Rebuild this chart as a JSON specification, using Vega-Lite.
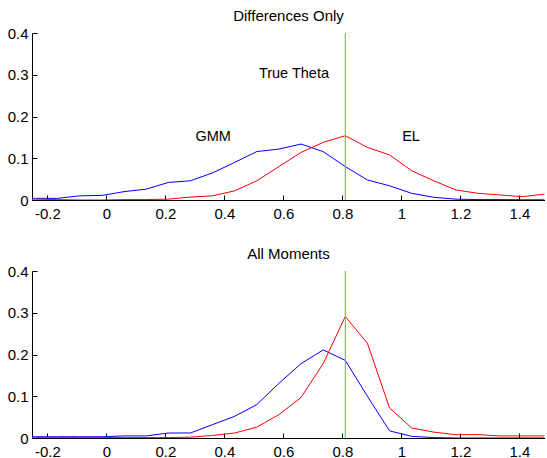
{
  "$schema": "https://vega.github.io/schema/vega-lite/v6.json",
  "padding": {"left": 7, "top": 9, "right": 0, "bottom": 0},
  "autosize": {"type": "pad"},
  "spacing": 26,
  "config": {
    "view": {"stroke": null},
    "font": "Liberation Sans",
    "title": {"fontSize": 15, "fontWeight": "normal", "color": "black", "offset": 2, "font": "Liberation Sans"},
    "axis": {
      "domainColor": "black", "domainWidth": 1, "tickColor": "black", "tickSize": -5,
      "labelFontSize": 15, "labelColor": "black", "labelFont": "Liberation Sans",
      "grid": false, "title": null, "labelPadding": 11, "labelFlush": false, "labelOverlap": false
    }
  },
  "datasets": {
    "d": [
      {"p": "top", "s": "GMM", "x": -0.315, "y": 0.004},
      {"p": "top", "s": "GMM", "x": -0.24, "y": 0.004},
      {"p": "top", "s": "GMM", "x": -0.165, "y": 0.004},
      {"p": "top", "s": "GMM", "x": -0.09, "y": 0.010},
      {"p": "top", "s": "GMM", "x": -0.015, "y": 0.011},
      {"p": "top", "s": "GMM", "x": 0.06, "y": 0.020},
      {"p": "top", "s": "GMM", "x": 0.135, "y": 0.026},
      {"p": "top", "s": "GMM", "x": 0.21, "y": 0.042},
      {"p": "top", "s": "GMM", "x": 0.285, "y": 0.046},
      {"p": "top", "s": "GMM", "x": 0.36, "y": 0.065},
      {"p": "top", "s": "GMM", "x": 0.435, "y": 0.090},
      {"p": "top", "s": "GMM", "x": 0.51, "y": 0.116},
      {"p": "top", "s": "GMM", "x": 0.585, "y": 0.122},
      {"p": "top", "s": "GMM", "x": 0.66, "y": 0.134},
      {"p": "top", "s": "GMM", "x": 0.735, "y": 0.116},
      {"p": "top", "s": "GMM", "x": 0.81, "y": 0.080},
      {"p": "top", "s": "GMM", "x": 0.885, "y": 0.048},
      {"p": "top", "s": "GMM", "x": 0.96, "y": 0.034},
      {"p": "top", "s": "GMM", "x": 1.035, "y": 0.016},
      {"p": "top", "s": "GMM", "x": 1.11, "y": 0.0065},
      {"p": "top", "s": "GMM", "x": 1.185, "y": 0.002},
      {"p": "top", "s": "GMM", "x": 1.26, "y": 0.001},
      {"p": "top", "s": "GMM", "x": 1.335, "y": 0.001},
      {"p": "top", "s": "GMM", "x": 1.41, "y": 0.0005},
      {"p": "top", "s": "GMM", "x": 1.485, "y": 0.0005},
      {"p": "top", "s": "EL", "x": -0.315, "y": 0.003},
      {"p": "top", "s": "EL", "x": -0.24, "y": 0.002},
      {"p": "top", "s": "EL", "x": -0.165, "y": 0.001},
      {"p": "top", "s": "EL", "x": -0.09, "y": 0.0},
      {"p": "top", "s": "EL", "x": -0.015, "y": 0.0},
      {"p": "top", "s": "EL", "x": 0.06, "y": 0.001},
      {"p": "top", "s": "EL", "x": 0.135, "y": 0.001},
      {"p": "top", "s": "EL", "x": 0.21, "y": 0.002},
      {"p": "top", "s": "EL", "x": 0.285, "y": 0.007},
      {"p": "top", "s": "EL", "x": 0.36, "y": 0.010},
      {"p": "top", "s": "EL", "x": 0.435, "y": 0.022},
      {"p": "top", "s": "EL", "x": 0.51, "y": 0.046},
      {"p": "top", "s": "EL", "x": 0.585, "y": 0.080},
      {"p": "top", "s": "EL", "x": 0.66, "y": 0.114},
      {"p": "top", "s": "EL", "x": 0.735, "y": 0.138},
      {"p": "top", "s": "EL", "x": 0.81, "y": 0.154},
      {"p": "top", "s": "EL", "x": 0.885, "y": 0.126},
      {"p": "top", "s": "EL", "x": 0.96, "y": 0.108},
      {"p": "top", "s": "EL", "x": 1.035, "y": 0.070},
      {"p": "top", "s": "EL", "x": 1.11, "y": 0.046},
      {"p": "top", "s": "EL", "x": 1.185, "y": 0.024},
      {"p": "top", "s": "EL", "x": 1.26, "y": 0.016},
      {"p": "top", "s": "EL", "x": 1.335, "y": 0.012},
      {"p": "top", "s": "EL", "x": 1.41, "y": 0.008},
      {"p": "top", "s": "EL", "x": 1.485, "y": 0.014},
      {"p": "bottom", "s": "GMM", "x": -0.315, "y": 0.003},
      {"p": "bottom", "s": "GMM", "x": -0.24, "y": 0.003},
      {"p": "bottom", "s": "GMM", "x": -0.165, "y": 0.003},
      {"p": "bottom", "s": "GMM", "x": -0.09, "y": 0.003},
      {"p": "bottom", "s": "GMM", "x": -0.015, "y": 0.003},
      {"p": "bottom", "s": "GMM", "x": 0.06, "y": 0.005},
      {"p": "bottom", "s": "GMM", "x": 0.135, "y": 0.005},
      {"p": "bottom", "s": "GMM", "x": 0.21, "y": 0.012},
      {"p": "bottom", "s": "GMM", "x": 0.285, "y": 0.012},
      {"p": "bottom", "s": "GMM", "x": 0.36, "y": 0.032},
      {"p": "bottom", "s": "GMM", "x": 0.435, "y": 0.052},
      {"p": "bottom", "s": "GMM", "x": 0.51, "y": 0.080},
      {"p": "bottom", "s": "GMM", "x": 0.585, "y": 0.131},
      {"p": "bottom", "s": "GMM", "x": 0.66, "y": 0.178},
      {"p": "bottom", "s": "GMM", "x": 0.735, "y": 0.211},
      {"p": "bottom", "s": "GMM", "x": 0.81, "y": 0.186},
      {"p": "bottom", "s": "GMM", "x": 0.885, "y": 0.100},
      {"p": "bottom", "s": "GMM", "x": 0.96, "y": 0.017},
      {"p": "bottom", "s": "GMM", "x": 1.035, "y": 0.004},
      {"p": "bottom", "s": "GMM", "x": 1.11, "y": 0.001},
      {"p": "bottom", "s": "GMM", "x": 1.185, "y": 0.0},
      {"p": "bottom", "s": "GMM", "x": 1.26, "y": 0.0},
      {"p": "bottom", "s": "GMM", "x": 1.335, "y": 0.0},
      {"p": "bottom", "s": "GMM", "x": 1.41, "y": 0.0},
      {"p": "bottom", "s": "GMM", "x": 1.485, "y": 0.0},
      {"p": "bottom", "s": "EL", "x": -0.315, "y": 0.001},
      {"p": "bottom", "s": "EL", "x": -0.24, "y": 0.001},
      {"p": "bottom", "s": "EL", "x": -0.165, "y": 0.001},
      {"p": "bottom", "s": "EL", "x": -0.09, "y": 0.001},
      {"p": "bottom", "s": "EL", "x": -0.015, "y": 0.001},
      {"p": "bottom", "s": "EL", "x": 0.06, "y": 0.001},
      {"p": "bottom", "s": "EL", "x": 0.135, "y": 0.001},
      {"p": "bottom", "s": "EL", "x": 0.21, "y": 0.001},
      {"p": "bottom", "s": "EL", "x": 0.285, "y": 0.002},
      {"p": "bottom", "s": "EL", "x": 0.36, "y": 0.006},
      {"p": "bottom", "s": "EL", "x": 0.435, "y": 0.012},
      {"p": "bottom", "s": "EL", "x": 0.51, "y": 0.026},
      {"p": "bottom", "s": "EL", "x": 0.585, "y": 0.056},
      {"p": "bottom", "s": "EL", "x": 0.66, "y": 0.097},
      {"p": "bottom", "s": "EL", "x": 0.735, "y": 0.178},
      {"p": "bottom", "s": "EL", "x": 0.81, "y": 0.291},
      {"p": "bottom", "s": "EL", "x": 0.885, "y": 0.227},
      {"p": "bottom", "s": "EL", "x": 0.96, "y": 0.072},
      {"p": "bottom", "s": "EL", "x": 1.035, "y": 0.024},
      {"p": "bottom", "s": "EL", "x": 1.11, "y": 0.014},
      {"p": "bottom", "s": "EL", "x": 1.185, "y": 0.008},
      {"p": "bottom", "s": "EL", "x": 1.26, "y": 0.008},
      {"p": "bottom", "s": "EL", "x": 1.335, "y": 0.005},
      {"p": "bottom", "s": "EL", "x": 1.41, "y": 0.005},
      {"p": "bottom", "s": "EL", "x": 1.485, "y": 0.005}
    ],
    "theta": [{"x": 0.81}],
    "notes": [
      {"t": "True Theta", "x": 0.636, "y": 0.302},
      {"t": "GMM", "x": 0.362, "y": 0.151},
      {"t": "EL", "x": 1.033, "y": 0.151}
    ]
  },
  "vconcat": [
    {
      "width": 513, "height": 167,
      "title": "Differences Only",
      "layer": [
        {
          "data": {"name": "d"},
          "transform": [{"filter": "datum.p == 'top'"}],
          "mark": {"type": "line", "strokeWidth": 1, "clip": true},
          "encoding": {
            "x": {"field": "x", "type": "quantitative", "scale": {"domain": [-0.252, 1.487], "nice": false, "zero": false},
                  "axis": {"values": [-0.2, 0, 0.2, 0.4, 0.6, 0.8, 1, 1.2, 1.4], "labelExpr": "toString(round(datum.value*10)/10)"}},
            "y": {"field": "y", "type": "quantitative", "scale": {"domain": [0, 0.4], "nice": false},
                  "axis": {"values": [0, 0.1, 0.2, 0.3, 0.4], "labelExpr": "toString(round(datum.value*10)/10)", "labelPadding": 9}},
            "color": {"field": "s", "type": "nominal", "scale": {"domain": ["GMM", "EL"], "range": ["#0000ff", "#ff0000"]}, "legend": null},
            "detail": {"field": "s"}
          }
        },
        {
          "data": {"name": "theta"},
          "mark": {"type": "rule", "color": "#00ff00", "strokeWidth": 1},
          "encoding": {"x": {"field": "x", "type": "quantitative"}}
        },
        {
          "data": {"name": "notes"},
          "mark": {"type": "text", "fontSize": 14.5, "color": "black", "align": "center", "baseline": "middle", "font": "Liberation Sans"},
          "encoding": {
            "x": {"field": "x", "type": "quantitative"},
            "y": {"field": "y", "type": "quantitative"},
            "text": {"field": "t"}
          }
        }
      ]
    },
    {
      "width": 513, "height": 167,
      "title": "All Moments",
      "layer": [
        {
          "data": {"name": "d"},
          "transform": [{"filter": "datum.p == 'bottom'"}],
          "mark": {"type": "line", "strokeWidth": 1, "clip": true},
          "encoding": {
            "x": {"field": "x", "type": "quantitative", "scale": {"domain": [-0.252, 1.487], "nice": false, "zero": false},
                  "axis": {"values": [-0.2, 0, 0.2, 0.4, 0.6, 0.8, 1, 1.2, 1.4], "labelExpr": "toString(round(datum.value*10)/10)"}},
            "y": {"field": "y", "type": "quantitative", "scale": {"domain": [0, 0.4], "nice": false},
                  "axis": {"values": [0, 0.1, 0.2, 0.3, 0.4], "labelExpr": "toString(round(datum.value*10)/10)", "labelPadding": 9}},
            "color": {"field": "s", "type": "nominal", "scale": {"domain": ["GMM", "EL"], "range": ["#0000ff", "#ff0000"]}, "legend": null},
            "detail": {"field": "s"}
          }
        },
        {
          "data": {"name": "theta"},
          "mark": {"type": "rule", "color": "#00ff00", "strokeWidth": 1},
          "encoding": {"x": {"field": "x", "type": "quantitative"}}
        }
      ]
    }
  ]
}
